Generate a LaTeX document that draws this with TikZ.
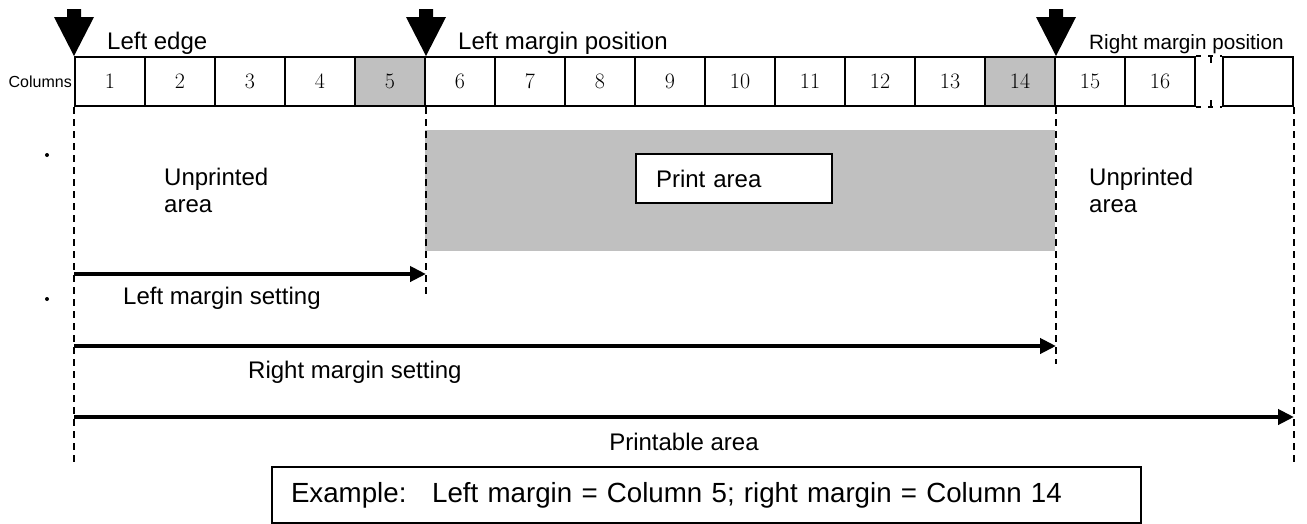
\documentclass[tikz,border=0pt]{standalone}
\usepackage{fontspec}
\setsansfont{Liberation Sans}
\usetikzlibrary{arrows.meta}
\definecolor{cellgray}{HTML}{C0C0C0}
\tikzset{
  cell/.style={draw,line width=2pt,minimum width=70pt,minimum height=49pt,inner sep=0pt,
    font=\rmfamily\fontsize{22}{22}\selectfont},
  lbl/.style={font=\sffamily\fontsize{24}{27}\selectfont,inner sep=0pt,anchor=base west,align=left},
  guide/.style={line width=1.5pt,dash pattern=on 7pt off 5pt},
  dim/.style={line width=4pt,-{Triangle[length=16pt,width=15pt]}},
  framebox/.style={draw,fill=white,line width=2pt,anchor=north west,align=left,inner ysep=0pt},
}
\begin{document}
\begin{tikzpicture}[x=1pt,y=-1pt]
\useasboundingbox (0,0) rectangle (1307,523);
% print area
\fill[cellgray] (425,130) rectangle (1055,251);
% column strip
\foreach \i in {1,...,16}{
  \ifnum\i=5 \def\f{cellgray}\else\ifnum\i=14 \def\f{cellgray}\else\def\f{white}\fi\fi
  \node[cell,fill=\f] (c\i) at ({40+70*\i},81.5) {\i};
}
\node[cell] (cend) at (1258,81.5) {};
\draw[line width=2pt,dash pattern=on 5pt off 7pt] (c16.north east) -- (cend.north west);
\draw[line width=2pt,dash pattern=on 5pt off 7pt] (c16.south east) -- (cend.south west);
\draw[line width=2pt] (1211,57) -- ++(0,6) (1211,106) -- ++(0,-6);
\node[font=\sffamily\fontsize{16}{16}\selectfont,inner sep=0pt,anchor=east] (collbl) at ([xshift=-2pt]c1.west) {Columns};
% position markers
\foreach \p in {c1.north west,c5.north east,c14.north east}
  \fill (\p) -- ++(-20,-39) -- ++(13,0) -- ++(0,-8) -- ++(14,0) -- ++(0,8) -- ++(13,0) -- cycle;
\node[lbl] (leftedge) at (107,49) {Left edge};
\node[lbl] (lmpos) at (458,49) {Left margin position};
\node[lbl,font=\sffamily\fontsize{20.7}{24}\selectfont] (rmpos) at (1089,49) {Right margin position};
% guides
\draw[guide] (c1.south west) -- ++(0,356);
\draw[guide] (c5.south east) -- ++(0,187);
\draw[guide] (c14.south east) -- ++(0,257);
\draw[guide] (cend.south east) -- ++(0,357);
% areas
\node[framebox,minimum width=196pt,minimum height=49pt,text width=156pt,inner xsep=20pt,
  font=\sffamily\fontsize{24}{27}\selectfont] (printbox) at (635,153) {Print area};
\node[lbl,anchor=north west] (unprl) at (164,167.5) {Unprinted\\area};
\node[lbl,anchor=north west] (unprr) at (1089,167.5) {Unprinted\\area};
\fill (47,155) circle (2pt) (47,299) circle (2pt);
% settings
\coordinate (rowa) at (0,274);
\coordinate (rowb) at (0,346);
\coordinate (rowc) at (0,417);
\draw[dim] (c1.south west |- rowa) -- (c5.south east |- rowa);
\draw[dim] (c1.south west |- rowb) -- (c14.south east |- rowb);
\draw[dim] (c1.south west |- rowc) -- (cend.south east |- rowc);
\node[lbl] (lmset) at (123,304) {Left margin setting};
\node[lbl] (rmset) at (248,378) {Right margin setting};
\node[lbl,anchor=base] (printable) at (684,450) {Printable area};
% example
\node[framebox,minimum width=869pt,minimum height=56pt,text width=831pt,inner xsep=19pt,
  font=\sffamily\fontsize{27.7}{30}\selectfont]
  (example) at (271,466) {Example:\hspace{0.93em}Left margin = Column 5; right margin = Column 14};
\end{tikzpicture}
\end{document}
